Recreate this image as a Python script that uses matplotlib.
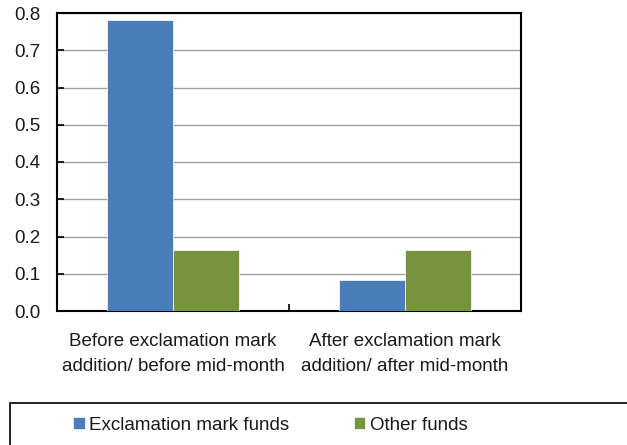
import numpy as np
import matplotlib
matplotlib.use('Agg')
import matplotlib.pyplot as plt
from matplotlib.patches import Patch, Rectangle

plt.rcParams['font.family'] = ['Liberation Sans', 'DejaVu Sans']

# data
categories = ['Before exclamation mark\naddition/ before mid-month',
              'After exclamation mark\naddition/ after mid-month']
series_names = ['Exclamation mark funds', 'Other funds']
excl_funds = [0.781, 0.084]
other_funds = [0.163, 0.164]
yticks = [0.0, 0.1, 0.2, 0.3, 0.4, 0.5, 0.6, 0.7, 0.8]

blue = '#4a7ebb'
green = '#77933c'
txt = '#1a1a1a'

fig = plt.figure(figsize=(6.27, 4.45), dpi=100)
ax = fig.add_axes([57 / 627, 1 - 311 / 445, 464 / 627, 298 / 445])

x = np.arange(len(categories))
w = 0.284
ax.bar(x - w / 2, excl_funds, width=w, color=blue, edgecolor='white', linewidth=0.5, zorder=3)
ax.bar(x + w / 2, other_funds, width=w, color=green, edgecolor='white', linewidth=0.5, zorder=3)

ax.set_xlim(-0.5, 1.5)
ax.set_ylim(0, 0.8)
ax.set_yticks(yticks)
ax.set_yticklabels([f'{v:.1f}' for v in yticks])
ax.yaxis.grid(True, color='#a0a0a0', linewidth=1, zorder=0)
ax.set_axisbelow(True)

ax.set_xticks(x)
ax.set_xticklabels(categories, linespacing=1.6)
ax.set_xticks([0.5], minor=True)
ax.tick_params(axis='x', which='major', length=0, pad=16, labelsize=13.5, colors=txt)
ax.tick_params(axis='x', which='minor', direction='in', length=5, width=1.2, color='black')
ax.tick_params(axis='y', direction='in', length=5, width=1.2, pad=12, labelsize=13.5,
               labelcolor=txt, color='black')

for s in ax.spines.values():
    s.set_color('black')
    s.set_linewidth(1.5)

# legend box runs off the bottom/right edge in the reference
fig.patches.append(Rectangle((10 / 627, -0.1), 1.0, 0.1 + (445 - 403) / 445,
                             transform=fig.transFigure, fill=False,
                             edgecolor='black', linewidth=1.2))
handles = [Patch(color=blue), Patch(color=green)]
fig.legend(handles, series_names, loc='center', bbox_to_anchor=(271 / 627, 1 - 425 / 445),
           ncol=2, frameon=False, fontsize=13.5, handlelength=0.5, handleheight=0.5,
           handletextpad=0.3, columnspacing=3.5, labelcolor=txt)

fig.savefig('out.png', dpi=100)
